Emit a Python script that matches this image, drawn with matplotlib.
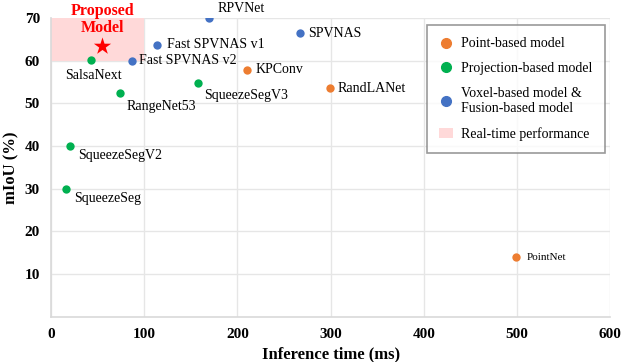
import matplotlib.pyplot as plt
from matplotlib.lines import Line2D
from matplotlib.patches import Patch, Rectangle

plt.rcParams['font.family'] = ['Liberation Serif', 'DejaVu Serif']

# Data
models = ["RPVNet", "SPVNAS", "Fast SPVNAS v1", "Fast SPVNAS v2", "SalsaNext",
          "KPConv", "SqueezeSegV3", "RangeNet53", "SqueezeSegV2", "SqueezeSeg",
          "RandLANet", "PointNet"]
times = [170, 267, 114, 87, 43, 210, 158, 74, 20, 16, 299, 499]
miou = [70.0, 66.5, 63.7, 60.0, 60.1, 57.9, 54.8, 52.4, 40.0, 30.0, 53.5, 14.0]
kinds = ["voxel", "voxel", "voxel", "voxel", "proj", "point", "proj", "proj",
         "proj", "proj", "point", "point"]
proposed_time = 55
proposed_miou = 63.5
realtime_ms = 100
realtime_miou = (60, 70)

colors = {"point": "#ED7D31", "proj": "#00B050", "voxel": "#4472C4"}

# label offsets in points (dx, dy, ha, va)
offsets = {
    "RPVNet": (6, 7, "left", "center"),
    "SPVNAS": (6, 0, "left", "center"),
    "Fast SPVNAS v1": (7, 0, "left", "center"),
    "Fast SPVNAS v2": (5, 0, "left", "center"),
    "SalsaNext": (2, -6, "center", "top"),
    "KPConv": (6, 0, "left", "center"),
    "SqueezeSegV3": (4, -4, "left", "top"),
    "RangeNet53": (5, -5, "left", "top"),
    "SqueezeSegV2": (6, -2, "left", "top"),
    "SqueezeSeg": (6, -2, "left", "top"),
    "RandLANet": (6, 0, "left", "center"),
    "PointNet": (8, 0, "left", "center"),
}

fig = plt.figure(figsize=(6.22, 3.62), dpi=100)
ax = fig.add_axes([0.082, 0.125, 0.899, 0.825])

ax.add_patch(Rectangle((0, realtime_miou[0]), realtime_ms,
                       realtime_miou[1] - realtime_miou[0],
                       facecolor="#FFD9D9", edgecolor="none", zorder=1))

for name, t, m, k in zip(models, times, miou, kinds):
    ax.scatter(t, m, s=36, color=colors[k], zorder=3, linewidths=0)
    dx, dy, ha, va = offsets[name]
    fs = 8 if name == "PointNet" else 10
    ax.annotate(name, (t, m), xytext=(dx, dy), textcoords="offset points",
                ha=ha, va=va, fontsize=fs)

ax.scatter(proposed_time, proposed_miou, marker="*", s=170, color="red",
           zorder=4, linewidths=0)
ax.annotate("Proposed\nModel", (proposed_time, proposed_miou), xytext=(0, 19),
            textcoords="offset points", ha="center", va="center",
            fontsize=11.5, fontweight="bold", color="red", linespacing=1.15)

ax.set_xlim(0, 600)
ax.set_ylim(0, 70)
ax.set_xticks(range(0, 601, 100))
ax.set_yticks(range(10, 71, 10))
ax.grid(True, color="#E6E6E6", linewidth=1, zorder=0)
ax.set_axisbelow(True)
for side in ["top", "right"]:
    ax.spines[side].set_visible(False)
for side in ["left", "bottom"]:
    ax.spines[side].set_color("#D9D9D9")
    ax.spines[side].set_linewidth(1.2)
ax.tick_params(length=0, labelsize=11, pad=8)
for lbl in ax.get_xticklabels() + ax.get_yticklabels():
    lbl.set_fontweight("bold")

ax.set_xlabel("Inference time (ms)", fontsize=12, fontweight="bold", labelpad=4)
ax.set_ylabel("mIoU (%)", fontsize=12, fontweight="bold", labelpad=4)

handles = [
    Line2D([], [], marker="o", ls="none", color=colors["point"], markersize=7),
    Line2D([], [], marker="o", ls="none", color=colors["proj"], markersize=7),
    Line2D([], [], marker="o", ls="none", color=colors["voxel"], markersize=7),
    Patch(facecolor="#FFD9D9", edgecolor="none"),
]
labels = ["Point-based model", "Projection-based model",
          "Voxel-based model &\nFusion-based model", "Real-time performance"]
leg = ax.legend(handles, labels, loc="upper right", bbox_to_anchor=(0.991, 0.977),
                borderaxespad=0, fontsize=10, frameon=True, fancybox=False,
                edgecolor="#808080", handlelength=1.0, handletextpad=0.6,
                borderpad=0.9, labelspacing=0.85)
leg.get_frame().set_linewidth(1.2)

fig.savefig("out.png", dpi=100)
plt.close(fig)
